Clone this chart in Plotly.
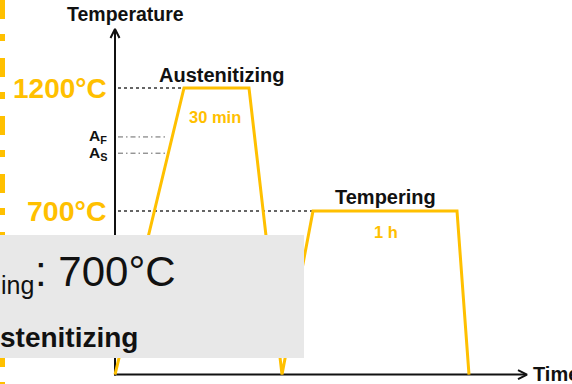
import plotly.graph_objects as go

# ---- data (schematic heat-treatment profile) ----
time_pts = [0, 69, 134, 167, 198, 342, 354]          # arbitrary time units
temp_pts = [35, 1200, 1200, 35, 700, 700, 35]         # °C
T_aust = 1200
T_temp = 700
A_F = 1001
A_S = 935
T_room = 35
t_axis_end = 412
T_axis_end = 1440
step_labels = ["Austenitizing", "Tempering"]
hold_labels = ["30 min", "1 h"]
level_labels = ["1200°C", "700°C"]

YEL = "#FFC000"
FONT = "Liberation Sans, Arial, sans-serif"

W, H = 572, 384
X0 = -115
Y_LO, Y_HI = -3.25, 1557.7
PX_PER_C = (Y_HI - Y_LO) / H  # °C per pixel

fig = go.Figure()

# left decorative dashed bar
fig.add_trace(go.Scatter(x=[-112.5, -112.5], y=[Y_HI, Y_LO], mode="lines",
                         line=dict(color=YEL, width=5, dash="19px,15px,7px,17px"),
                         hoverinfo="skip"))
# axes lines
fig.add_trace(go.Scatter(x=[0, 0], y=[T_room - 4, T_axis_end - 8], mode="lines",
                         line=dict(color="#111", width=2), hoverinfo="skip"))
fig.add_trace(go.Scatter(x=[-1, t_axis_end - 2], y=[T_room, T_room], mode="lines",
                         line=dict(color="#111", width=2), hoverinfo="skip"))
# arrowheads (chevrons)
dx, dy = 4.5, 9 * PX_PER_C
fig.add_trace(go.Scatter(x=[-dx, 0, dx], y=[T_axis_end - dy, T_axis_end, T_axis_end - dy],
                         mode="lines", line=dict(color="#111", width=2), hoverinfo="skip"))
dx2, dy2 = 9, 4.5 * PX_PER_C
fig.add_trace(go.Scatter(x=[t_axis_end - dx2, t_axis_end, t_axis_end - dx2],
                         y=[T_room + dy2, T_room, T_room - dy2],
                         mode="lines", line=dict(color="#111", width=2), hoverinfo="skip"))
# reference lines
fig.add_trace(go.Scatter(x=[3, time_pts[1]], y=[T_aust, T_aust], mode="lines",
                         line=dict(color="#333", width=1.5, dash="dot"), hoverinfo="skip"))
fig.add_trace(go.Scatter(x=[3, time_pts[4]], y=[T_temp, T_temp], mode="lines",
                         line=dict(color="#333", width=1.5, dash="dot"), hoverinfo="skip"))
fig.add_trace(go.Scatter(x=[3, 53], y=[A_F, A_F], mode="lines",
                         line=dict(color="#666", width=1, dash="5px,3px,1.5px,3px"), hoverinfo="skip"))
fig.add_trace(go.Scatter(x=[3, 50], y=[A_S, A_S], mode="lines",
                         line=dict(color="#666", width=1, dash="5px,3px,1.5px,3px"), hoverinfo="skip"))
# profile
fig.add_trace(go.Scatter(x=time_pts, y=temp_pts, mode="lines",
                         line=dict(color=YEL, width=3), hoverinfo="skip"))

ann = []
def txt(x, y, s, size, color="#111", bold=True, xanchor="center", yanchor="middle", xref="x", yref="y"):
    ann.append(dict(x=x, y=y, xref=xref, yref=yref, text=(f"<b>{s}</b>" if bold else s),
                    showarrow=False, xanchor=xanchor, yanchor=yanchor,
                    font=dict(family=FONT, size=size, color=color)))

txt(10, 1501, "Temperature", 19.5)
txt(-6, T_aust, level_labels[0], 28, YEL, xanchor="right")
txt(-6, T_temp, level_labels[1], 28.5, YEL, xanchor="right")
txt(-6, A_F, "A<sub>F</sub>", 15.5, xanchor="right")
txt(-6, A_S - 3, "A<sub>S</sub>", 15.5, xanchor="right")
txt(106.5, 1253, step_labels[0], 20)
txt(99.5, 1082, hold_labels[0], 16.5, YEL)
txt(270.5, 757, step_labels[1], 20)
txt(270.5, 615, hold_labels[1], 16.5, YEL)
txt(416, T_room + 3, "Time", 20, xanchor="left")

# overlay box text (paper coords)
def px(xp):
    return xp / W
def py(yp):
    return 1 - yp / H
txt(px(-1), py(285), "ing", 25, "#111", bold=False, xanchor="left", xref="paper", yref="paper")
txt(px(33), py(271), ": 700°C", 42, "#111", bold=False, xanchor="left", xref="paper", yref="paper")
txt(px(-2), py(337), "stenitizing", 28, "#111", bold=True, xanchor="left", xref="paper", yref="paper")

fig.update_layout(
    width=W, height=H, margin=dict(l=0, r=0, t=0, b=0),
    paper_bgcolor="white", plot_bgcolor="white", showlegend=False,
    xaxis=dict(range=[X0, X0 + W], visible=False, fixedrange=True),
    yaxis=dict(range=[Y_LO, Y_HI], visible=False, fixedrange=True),
    shapes=[dict(type="rect", xref="paper", yref="paper", x0=0, x1=px(304),
                 y0=py(358), y1=py(235), fillcolor="#E8E8E8", line=dict(width=0), layer="above")],
    annotations=ann,
)
fig.write_html("out.html", config={"displayModeBar": False},
               post_script="document.body.style.margin='0px';document.body.style.overflow='hidden';")
